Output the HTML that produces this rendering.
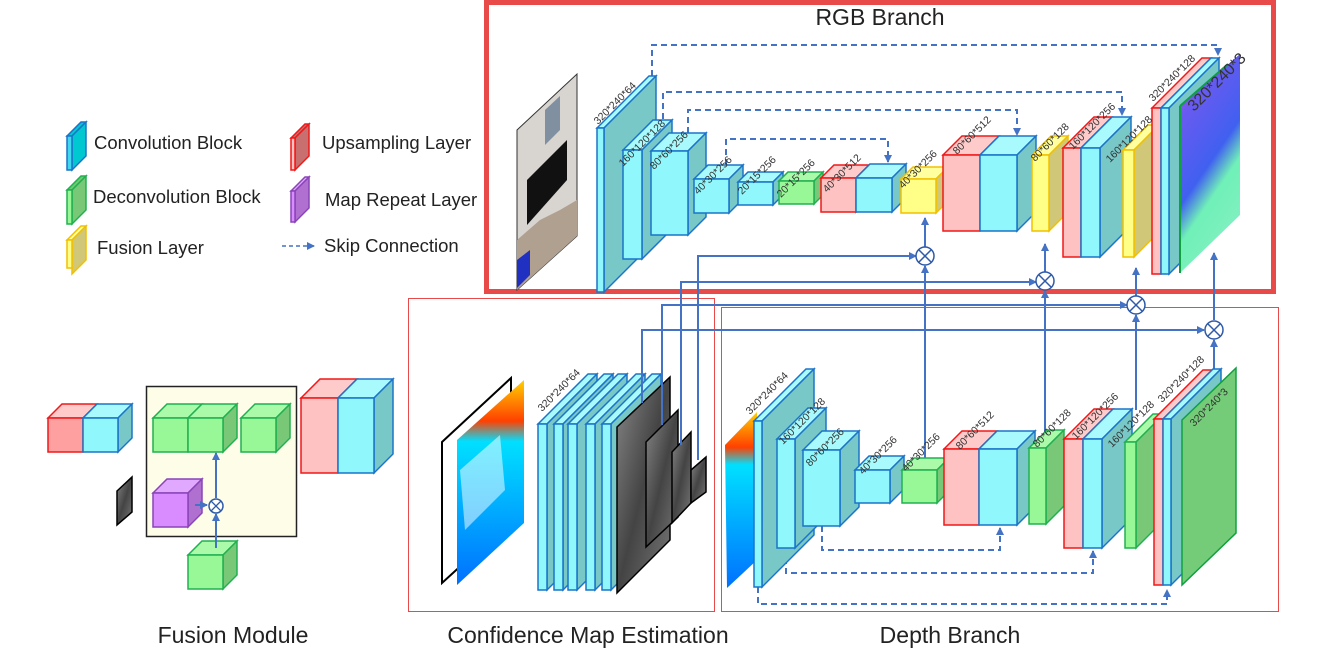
<!DOCTYPE html>
<html><head><meta charset="utf-8"><style>
html,body{margin:0;padding:0;background:#fff;}
svg{display:block;}
.c{fill:#90f8fc;stroke:#1b74c8;stroke-width:1.5}
.cs{fill:#78c8c8;stroke:#1b74c8;stroke-width:1.5}
.ct{fill:#a8fafc;stroke:#1b74c8;stroke-width:1.5}
.r{fill:#ffc2c2;stroke:#f01818;stroke-width:1.5}
.rt{fill:#ffcaca;stroke:#f01818;stroke-width:1.5}
.g{fill:#98f898;stroke:#20b050;stroke-width:1.5}
.gs{fill:#78c878;stroke:#20b050;stroke-width:1.5}
.gt{fill:#aafaaa;stroke:#20b050;stroke-width:1.5}
.y{fill:#ffff88;stroke:#f0c000;stroke-width:1.5}
.ys{fill:#d0c878;stroke:#f0c000;stroke-width:1.5}
.yt{fill:#ffffa0;stroke:#f0c000;stroke-width:1.5}
.p{fill:#d98cff;stroke:#8a44b8;stroke-width:1.5}
.ps{fill:#b070d0;stroke:#8a44b8;stroke-width:1.5}
.pt{fill:#e0a8ff;stroke:#8a44b8;stroke-width:1.5}
.dim{font-family:"Liberation Sans",sans-serif;font-size:10.5px;fill:#333}
.lab{font-family:"Liberation Sans",sans-serif;font-size:23px;fill:#222}
.leg{font-family:"Liberation Sans",sans-serif;font-size:18.5px;fill:#222}
.ln{stroke:#4472c4;stroke-width:2;fill:none}
.dl{stroke:#4472c4;stroke-width:2;fill:none;stroke-dasharray:6,4}
.ox{fill:#fff;stroke:#2f5aa8;stroke-width:1.5}
</style></head><body>
<svg width="1330" height="653" viewBox="0 0 1330 653" xmlns="http://www.w3.org/2000/svg">
<defs>
<marker id="ah" markerWidth="8" markerHeight="8" refX="7" refY="4" orient="auto" markerUnits="userSpaceOnUse"><path d="M0,0 L8,4 L0,8 z" fill="#4472c4"/></marker>
<linearGradient id="nm" x1="0" y1="0" x2="0.4" y2="1"><stop offset="0" stop-color="#e060e8"/><stop offset="0.25" stop-color="#6a5af0"/><stop offset="0.6" stop-color="#4060f0"/><stop offset="0.75" stop-color="#70f0b8"/><stop offset="1" stop-color="#80f0c0"/></linearGradient>
<linearGradient id="dm" x1="0" y1="0" x2="0" y2="1"><stop offset="0" stop-color="#ffd000"/><stop offset="0.2" stop-color="#ff4000"/><stop offset="0.3" stop-color="#00e0ff"/><stop offset="1" stop-color="#0070ff"/></linearGradient>
<linearGradient id="gr" x1="0" y1="0" x2="1" y2="1"><stop offset="0" stop-color="#888"/><stop offset="0.5" stop-color="#444"/><stop offset="1" stop-color="#777"/></linearGradient>
</defs>

<rect x="486.5" y="2.5" width="787" height="289" fill="none" stroke="#e84a4a" stroke-width="5"/>
<rect x="408.5" y="298.5" width="306" height="313" fill="none" stroke="#e84a4a" stroke-width="1"/>
<rect x="721.5" y="307.5" width="557" height="304" fill="none" stroke="#e84a4a" stroke-width="1"/>
<text class="lab" x="880" y="25" text-anchor="middle">RGB Branch</text>
<text class="lab" x="233" y="643" text-anchor="middle">Fusion Module</text>
<text class="lab" x="588" y="643" text-anchor="middle">Confidence Map Estimation</text>
<text class="lab" x="950" y="643" text-anchor="middle">Depth Branch</text>

<polygon class="ct" points="67,136 81,122 86,122 72,136" style="fill:#00c8d0"/><polygon class="cs" points="72,136 86,122 86,156 72,170" style="fill:#00c8d0"/><rect class="c" x="67" y="136" width="5" height="34" style="fill:#40d8f0"/>
<text class="leg" x="94" y="149">Convolution Block</text>
<polygon class="gt" points="67,190 81,176 86,176 72,190" style="fill:#70c870"/><polygon class="gs" points="72,190 86,176 86,210 72,224"/><rect class="g" x="67" y="190" width="5" height="34"/>
<text class="leg" x="93" y="203">Deconvolution Block</text>
<polygon class="yt" points="67,240 81,226 86,226 72,240"/><polygon class="ys" points="72,240 86,226 86,260 72,274"/><rect class="y" x="67" y="240" width="5" height="28"/>
<text class="leg" x="97" y="254">Fusion Layer</text>
<polygon class="rt" points="291,138 305,124 309,124 295,138" style="fill:#c87070"/><polygon class="r" points="295,138 309,124 309,156 295,170" style="fill:#c87070"/><rect class="r" x="291" y="138" width="4" height="32"/>
<text class="leg" x="322" y="149">Upsampling Layer</text>
<polygon class="pt" points="291,191 305,177 309,177 295,191"/><polygon class="ps" points="295,191 309,177 309,208 295,222"/><rect class="p" x="291" y="191" width="4" height="31"/>
<text class="leg" x="325" y="206">Map Repeat Layer</text>
<line class="dl" x1="282" y1="246" x2="314" y2="246" style="stroke-width:1.5;stroke-dasharray:4,3" marker-end="url(#ah)"/>
<text class="leg" x="324" y="252">Skip Connection</text>

<polygon points="517,130 577,74 577,236 517,290" fill="#d8d4d0" stroke="#333" stroke-width="1"/>
<polygon points="527,180 567,140 567,180 527,225" fill="#111"/>
<polygon points="545,110 560,96 560,130 545,145" fill="#8090a0"/>
<polygon points="517,240 540,220 560,210 577,200 577,236 517,290" fill="#b0a090"/>
<polygon points="517,260 530,250 530,275 517,288" fill="#2030c0"/>

<polyline class="dl" points="652,76 652,45 1218,45 1218,55" marker-end="url(#ah)"/>
<polyline class="dl" points="663,119 663,92 1122,92 1122,115" marker-end="url(#ah)"/>
<polyline class="dl" points="688,133 688,110 1017,110 1017,135" marker-end="url(#ah)"/>
<polyline class="dl" points="726,165 726,139 888,139 888,162" marker-end="url(#ah)"/>

<polygon class="ct" points="597,128 649,76 656,76 604,128"/><polygon class="cs" points="604,128 656,76 656,240 604,292"/><rect class="c" x="597" y="128" width="7" height="164"/>
<polygon class="ct" points="623,150 653,120 672,120 642,150"/><polygon class="cs" points="642,150 672,120 672,229 642,259"/><rect class="c" x="623" y="150" width="19" height="109"/>
<polygon class="ct" points="651,151 669,133 706,133 688,151"/><polygon class="cs" points="688,151 706,133 706,217 688,235"/><rect class="c" x="651" y="151" width="37" height="84"/>
<polygon class="ct" points="694,179 708,165 743,165 729,179"/><polygon class="cs" points="729,179 743,165 743,199 729,213"/><rect class="c" x="694" y="179" width="35" height="34"/>
<polygon class="ct" points="738,182 748,172 783,172 773,182"/><polygon class="cs" points="773,182 783,172 783,195 773,205"/><rect class="c" x="738" y="182" width="35" height="23"/>
<polygon class="gt" points="779,181 788,172 823,172 814,181"/><polygon class="gs" points="814,181 823,172 823,195 814,204"/><rect class="g" x="779" y="181" width="35" height="23"/>
<polygon class="rt" points="821,178 834,165 869,165 856,178"/><polygon class="r" points="856,178 869,165 869,199 856,212"/><rect class="r" x="821" y="178" width="35" height="34"/>
<polygon class="ct" points="856,178 870,164 906,164 892,178"/><polygon class="cs" points="892,178 906,164 906,198 892,212"/><rect class="c" x="856" y="178" width="36" height="34"/>
<polygon class="yt" points="901,179 913,167 948,167 936,179"/><polygon class="ys" points="936,179 948,167 948,201 936,213"/><rect class="y" x="901" y="179" width="35" height="34"/>
<polygon class="rt" points="943,155 962,136 999,136 980,155"/><rect class="r" x="943" y="155" width="37" height="76"/>
<polygon class="ct" points="980,155 999,136 1036,136 1017,155"/><polygon class="cs" points="1017,155 1036,136 1036,212 1017,231"/><rect class="c" x="980" y="155" width="37" height="76"/>
<polygon class="yt" points="1032,155 1051,136 1068,136 1049,155"/><polygon class="ys" points="1049,155 1068,136 1068,212 1049,231"/><rect class="y" x="1032" y="155" width="17" height="76"/>
<polygon class="rt" points="1063,148 1094,117 1112,117 1081,148"/><rect class="r" x="1063" y="148" width="18" height="109"/>
<polygon class="ct" points="1081,148 1112,117 1131,117 1100,148"/><polygon class="cs" points="1100,148 1131,117 1131,226 1100,257"/><rect class="c" x="1081" y="148" width="19" height="109"/>
<polygon class="yt" points="1123,150 1148,125 1159,125 1134,150"/><polygon class="ys" points="1134,150 1159,125 1159,232 1134,257"/><rect class="y" x="1123" y="150" width="11" height="107"/>
<polygon class="rt" points="1152,108 1202,58 1211,58 1161,108"/><rect class="r" x="1152" y="108" width="9" height="166"/>
<polygon class="ct" points="1161,108 1211,58 1219,58 1169,108"/><polygon class="cs" points="1169,108 1219,58 1219,224 1169,274"/><rect class="c" x="1161" y="108" width="8" height="166"/>
<polygon points="1180,106 1240,54 1240,215 1180,273" fill="url(#nm)"/>
<line x1="1180" y1="106" x2="1180" y2="273" stroke="#10a040" stroke-width="2"/>
<line x1="1180" y1="106" x2="1228" y2="64" stroke="#10a040" stroke-width="2"/>

<g class="dim">
<text transform="translate(598,125) rotate(-45)">320*240*64</text>
<text transform="translate(623,167) rotate(-45)">160*120*128</text>
<text transform="translate(654,170) rotate(-45)">80*60*256</text>
<text transform="translate(698,195) rotate(-45)">40*30*256</text>
<text transform="translate(742,195) rotate(-45)">20*15*256</text>
<text transform="translate(781,198) rotate(-45)">20*15*256</text>
<text transform="translate(827,193) rotate(-45)">40*30*512</text>
<text transform="translate(903,189) rotate(-45)">40*30*256</text>
<text transform="translate(957,155) rotate(-45)">80*60*512</text>
<text transform="translate(1035,162) rotate(-45)">80*60*128</text>
<text transform="translate(1073,150) rotate(-45)">160*120*256</text>
<text transform="translate(1110,163) rotate(-45)">160*120*128</text>
<text transform="translate(1153,102) rotate(-45)">320*240*128</text>
<text transform="translate(1194,112) rotate(-45)" style="font-size:16px">320*240*3</text>
</g>

<polygon points="442,442 511,378 511,520 442,583" fill="#fff" stroke="#000" stroke-width="2"/>
<polygon points="457,440 524,380 524,523 457,585" fill="url(#dm)"/>
<polygon points="460,470 500,435 505,490 465,530" fill="#fff" opacity="0.5"/>
<g>
<polygon class="ct" points="538,424 588,374 597,374 547,424"/><polygon class="cs" points="547,424 597,374 597,540 547,590"/><rect class="c" x="538" y="424" width="9" height="166"/>
<polygon class="ct" points="554,424 604,374 613,374 563,424"/><polygon class="cs" points="563,424 613,374 613,540 563,590"/><rect class="c" x="554" y="424" width="9" height="166"/>
<polygon class="ct" points="568,424 618,374 627,374 577,424"/><polygon class="cs" points="577,424 627,374 627,540 577,590"/><rect class="c" x="568" y="424" width="9" height="166"/>
<polygon class="ct" points="586,424 636,374 645,374 595,424"/><polygon class="cs" points="595,424 645,374 645,540 595,590"/><rect class="c" x="586" y="424" width="9" height="166"/>
<polygon class="ct" points="602,424 652,374 661,374 611,424"/><polygon class="cs" points="611,424 661,374 661,540 611,590"/><rect class="c" x="602" y="424" width="9" height="166"/>
</g>
<polygon points="617,427 670,377 670,540 617,593" fill="url(#gr)" stroke="#000" stroke-width="1.5"/>
<polygon points="646,442 678,410 678,517 646,547" fill="url(#gr)" stroke="#000" stroke-width="1.5"/>
<polygon points="672,452 691,432 691,503 672,523" fill="url(#gr)" stroke="#000" stroke-width="1.5"/>
<polygon points="691,470 706,457 706,492 691,503" fill="url(#gr)" stroke="#000" stroke-width="1.5"/>
<text class="dim" transform="translate(542,412) rotate(-45)">320*240*64</text>

<polyline class="ln" points="642,403 642,330 1204,330" marker-end="url(#ah)"/>
<polyline class="ln" points="662,425 662,305 1127,305" marker-end="url(#ah)"/>
<polyline class="ln" points="681,445 681,282 1036,282" marker-end="url(#ah)"/>
<polyline class="ln" points="698,460 698,256 916,256" marker-end="url(#ah)"/>

<line class="ln" x1="925" y1="462" x2="925" y2="266" marker-end="url(#ah)"/>
<line class="ln" x1="925" y1="247" x2="925" y2="218" marker-end="url(#ah)"/>
<line class="ln" x1="1045" y1="432" x2="1045" y2="291" marker-end="url(#ah)"/>
<line class="ln" x1="1045" y1="272" x2="1045" y2="244" marker-end="url(#ah)"/>
<line class="ln" x1="1136" y1="410" x2="1136" y2="315" marker-end="url(#ah)"/>
<line class="ln" x1="1136" y1="296" x2="1136" y2="268" marker-end="url(#ah)"/>
<line class="ln" x1="1214" y1="383" x2="1214" y2="340" marker-end="url(#ah)"/>
<line class="ln" x1="1214" y1="320" x2="1214" y2="253" marker-end="url(#ah)"/>
<g>
<circle class="ox" cx="925" cy="256" r="9"/><path d="M919,250 L931,262 M931,250 L919,262" stroke="#2f5aa8" stroke-width="1.5"/>
<circle class="ox" cx="1045" cy="281" r="9"/><path d="M1039,275 L1051,287 M1051,275 L1039,287" stroke="#2f5aa8" stroke-width="1.5"/>
<circle class="ox" cx="1136" cy="305" r="9"/><path d="M1130,299 L1142,311 M1142,299 L1130,311" stroke="#2f5aa8" stroke-width="1.5"/>
<circle class="ox" cx="1214" cy="330" r="9"/><path d="M1208,324 L1220,336 M1220,324 L1208,336" stroke="#2f5aa8" stroke-width="1.5"/>
</g>

<polygon points="725,445 757,412 757,560 727,588" fill="url(#dm)"/>
<polyline class="dl" points="758,587 758,604 1167,604 1167,590" marker-end="url(#ah)"/>
<polyline class="dl" points="786,548 786,573 1093,573 1093,551" marker-end="url(#ah)"/>
<polyline class="dl" points="822,526 822,550 1000,550 1000,528" marker-end="url(#ah)"/>
<polygon class="ct" points="754,421 806,369 814,369 762,421"/><polygon class="cs" points="762,421 814,369 814,535 762,587"/><rect class="c" x="754" y="421" width="8" height="166"/>
<polygon class="ct" points="777,439 808,408 826,408 795,439"/><polygon class="cs" points="795,439 826,408 826,517 795,548"/><rect class="c" x="777" y="439" width="18" height="109"/>
<polygon class="ct" points="803,450 822,431 859,431 840,450"/><polygon class="cs" points="840,450 859,431 859,507 840,526"/><rect class="c" x="803" y="450" width="37" height="76"/>
<polygon class="ct" points="855,470 869,456 904,456 890,470"/><polygon class="cs" points="890,470 904,456 904,489 890,503"/><rect class="c" x="855" y="470" width="35" height="33"/>
<polygon class="gt" points="902,470 914,458 949,458 937,470"/><polygon class="gs" points="937,470 949,458 949,491 937,503"/><rect class="g" x="902" y="470" width="35" height="33"/>
<polygon class="rt" points="944,449 962,431 997,431 979,449"/><rect class="r" x="944" y="449" width="35" height="76"/>
<polygon class="ct" points="979,449 997,431 1035,431 1017,449"/><polygon class="cs" points="1017,449 1035,431 1035,507 1017,525"/><rect class="c" x="979" y="449" width="38" height="76"/>
<polygon class="gt" points="1029,448 1047,430 1064,430 1046,448"/><polygon class="gs" points="1046,448 1064,430 1064,506 1046,524"/><rect class="g" x="1029" y="448" width="17" height="76"/>
<polygon class="rt" points="1064,439 1094,409 1113,409 1083,439"/><rect class="r" x="1064" y="439" width="19" height="109"/>
<polygon class="ct" points="1083,439 1113,409 1132,409 1102,439"/><polygon class="cs" points="1102,439 1132,409 1132,518 1102,548"/><rect class="c" x="1083" y="439" width="19" height="109"/>
<polygon class="gt" points="1125,442 1153,414 1164,414 1136,442"/><polygon class="gs" points="1136,442 1164,414 1164,520 1136,548"/><rect class="g" x="1125" y="442" width="11" height="106"/>
<polygon class="rt" points="1154,419 1203,370 1212,370 1163,419"/><rect class="r" x="1154" y="419" width="9" height="166"/>
<polygon class="ct" points="1163,419 1213,369 1221,369 1171,419"/><polygon class="cs" points="1171,419 1221,369 1221,535 1171,585"/><rect class="c" x="1163" y="419" width="8" height="166"/>
<polygon points="1182,420 1236,368 1236,533 1182,585" fill="#74cc78" stroke="#10a040" stroke-width="1.5"/>
<g class="dim">
<text transform="translate(750,415) rotate(-45)">320*240*64</text>
<text transform="translate(783,445) rotate(-45)">160*120*128</text>
<text transform="translate(810,467) rotate(-45)">80*60*256</text>
<text transform="translate(863,475) rotate(-45)">40*30*256</text>
<text transform="translate(906,472) rotate(-45)">40*30*256</text>
<text transform="translate(960,450) rotate(-45)">80*60*512</text>
<text transform="translate(1037,448) rotate(-45)">80*60*128</text>
<text transform="translate(1076,440) rotate(-45)">160*120*256</text>
<text transform="translate(1112,448) rotate(-45)">160*120*128</text>
<text transform="translate(1162,403) rotate(-45)">320*240*128</text>
<text transform="translate(1194,427) rotate(-45)">320*240*3</text>
</g>

<polygon class="rt" points="48,418 62,404 97,404 83,418"/><rect class="r" x="48" y="418" width="35" height="34" style="fill:#ffa0a0"/>
<polygon class="ct" points="83,418 97,404 132,404 118,418"/><polygon class="cs" points="118,418 132,404 132,438 118,452"/><rect class="c" x="83" y="418" width="35" height="34"/>
<polygon points="117,491 132,477 132,512 117,525" fill="url(#gr)" stroke="#000" stroke-width="1.5"/>
<rect x="146.5" y="386.5" width="150" height="150" fill="#fdfde8" stroke="#222" stroke-width="1.5"/>
<polygon class="gt" points="153,418 167,404 202,404 188,418"/><rect class="g" x="153" y="418" width="35" height="34"/>
<polygon class="gt" points="188,418 202,404 237,404 223,418"/><polygon class="gs" points="223,418 237,404 237,438 223,452"/><rect class="g" x="188" y="418" width="35" height="34"/>
<polygon class="gt" points="241,418 255,404 290,404 276,418"/><polygon class="gs" points="276,418 290,404 290,438 276,452"/><rect class="g" x="241" y="418" width="35" height="34"/>
<polygon class="pt" points="153,493 167,479 202,479 188,493"/><polygon class="ps" points="188,493 202,479 202,513 188,527"/><rect class="p" x="153" y="493" width="35" height="34"/>
<polygon class="gt" points="188,555 202,541 237,541 223,555"/><polygon class="gs" points="223,555 237,541 237,575 223,589"/><rect class="g" x="188" y="555" width="35" height="34"/>
<line class="ln" x1="195" y1="505" x2="207" y2="505" marker-end="url(#ah)"/>
<line class="ln" x1="216" y1="548" x2="216" y2="514" marker-end="url(#ah)"/>
<line class="ln" x1="216" y1="498" x2="216" y2="453" marker-end="url(#ah)"/>
<circle class="ox" cx="216" cy="506" r="7"/><path d="M211,501 L221,511 M221,501 L211,511" stroke="#2f5aa8" stroke-width="1.3"/>
<polygon class="rt" points="301,398 320,379 357,379 338,398"/><rect class="r" x="301" y="398" width="37" height="75"/>
<polygon class="ct" points="338,398 357,379 393,379 374,398"/><polygon class="cs" points="374,398 393,379 393,454 374,473"/><rect class="c" x="338" y="398" width="36" height="75"/>
</svg>
</body></html>
